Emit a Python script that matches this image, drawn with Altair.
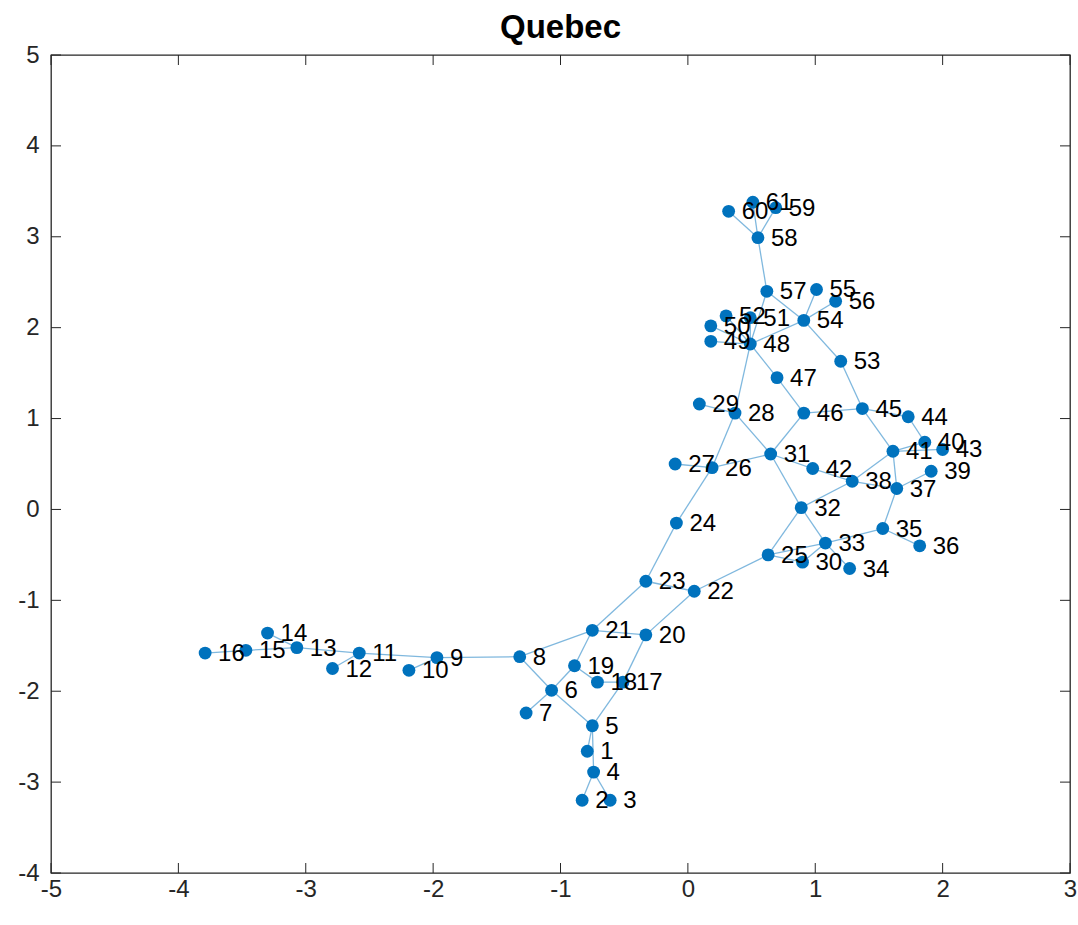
import altair as alt
import pandas as pd

# Node coordinates of the graph layout
node_x = [-0.79, -0.83, -0.61, -0.74, -0.75, -1.07, -1.27, -1.32, -1.97, -2.19,
          -2.58, -2.79, -3.07, -3.30, -3.47, -3.79, -0.51, -0.71, -0.89, -0.33,
          -0.75, 0.05, -0.33, -0.09, 0.63, 0.19, -0.10, 0.37, 0.09, 0.90,
          0.65, 0.89, 1.08, 1.27, 1.53, 1.82, 1.64, 1.29, 1.91, 1.86,
          1.61, 0.98, 2.00, 1.73, 1.37, 0.91, 0.70, 0.49, 0.18, 0.18,
          0.49, 0.30, 1.20, 0.91, 1.01, 1.16, 0.62, 0.55, 0.69, 0.32, 0.51]
node_y = [-2.66, -3.20, -3.20, -2.89, -2.38, -1.99, -2.24, -1.62, -1.63, -1.77,
          -1.58, -1.75, -1.52, -1.36, -1.55, -1.58, -1.90, -1.90, -1.72, -1.38,
          -1.33, -0.90, -0.79, -0.15, -0.50, 0.46, 0.50, 1.06, 1.16, -0.58,
          0.61, 0.02, -0.37, -0.65, -0.21, -0.40, 0.23, 0.31, 0.42, 0.74,
          0.64, 0.45, 0.66, 1.02, 1.11, 1.06, 1.45, 1.82, 1.85, 2.02,
          2.11, 2.13, 1.63, 2.08, 2.42, 2.29, 2.40, 2.99, 3.32, 3.28, 3.38]

# Edge list (1-based node ids)
edge_src = [1, 2, 3, 4, 5, 5, 6, 6, 6, 8, 8, 9, 9, 11, 11, 13, 13, 15,
            17, 17, 18, 19, 20, 20, 21, 22, 22, 23, 24, 26, 26, 26, 28, 28, 28,
            25, 25, 25, 30, 31, 31, 31, 32, 32, 33, 33, 35, 35, 37, 37, 37,
            38, 38, 40, 41, 40, 44, 41, 45, 45, 46, 47, 48, 48, 48, 48, 48, 48,
            53, 54, 54, 54, 57, 58, 58, 58]
edge_dst = [5, 4, 4, 5, 6, 17, 7, 8, 19, 9, 21, 10, 11, 12, 13, 14, 15, 16,
            18, 20, 19, 21, 21, 22, 23, 23, 25, 24, 26, 27, 28, 31, 29, 31, 48,
            30, 32, 33, 33, 32, 42, 46, 33, 38, 34, 35, 36, 37, 38, 39, 41,
            42, 41, 41, 43, 44, 45, 45, 46, 53, 47, 48, 49, 50, 51, 52, 54, 57,
            54, 55, 56, 57, 58, 59, 60, 61]

x_ticks = [-5, -4, -3, -2, -1, 0, 1, 2, 3]
y_ticks = [-4, -3, -2, -1, 0, 1, 2, 3, 4, 5]

W, H = 1019, 818
BLUE = "#0072BD"
INK = "#262626"
FONT = "Liberation Sans"

nodes = pd.DataFrame({
    "id": list(range(1, len(node_x) + 1)),
    "x": node_x,
    "y": node_y,
})
nodes["label"] = nodes["id"].astype(str)

edge_rows = []
for k, (a, b) in enumerate(zip(edge_src, edge_dst)):
    edge_rows.append({"edge": k, "order": 0, "x": node_x[a - 1], "y": node_y[a - 1]})
    edge_rows.append({"edge": k, "order": 1, "x": node_x[b - 1], "y": node_y[b - 1]})
edges = pd.DataFrame(edge_rows)

xs = alt.Scale(domain=[-5, 3], nice=False, zero=False)
ys = alt.Scale(domain=[-4, 5], nice=False, zero=False)

x_axis = alt.Axis(values=x_ticks, labelExpr="'' + datum.value", tickSize=0,
                  labelPadding=4, grid=False, title=None, domain=False,
                  labelFont=FONT, labelFontSize=24, labelColor=INK,
                  labelFlush=False, labelOverlap=False)
y_axis = alt.Axis(values=y_ticks, labelExpr="'' + datum.value", tickSize=0,
                  labelPadding=12, grid=False, title=None, domain=False,
                  labelFont=FONT, labelFontSize=24, labelColor=INK,
                  labelFlush=False, labelOverlap=False)

edge_layer = alt.Chart(edges).mark_line(
    color=BLUE, strokeWidth=1.3, opacity=0.5
).encode(
    x=alt.X("x:Q", scale=xs, axis=x_axis),
    y=alt.Y("y:Q", scale=ys, axis=y_axis),
    detail="edge:N",
    order="order:Q",
)

node_layer = alt.Chart(nodes).mark_circle(
    color=BLUE, size=165, opacity=1
).encode(
    x=alt.X("x:Q", scale=xs, axis=x_axis),
    y=alt.Y("y:Q", scale=ys, axis=y_axis),
)

label_layer = alt.Chart(nodes).mark_text(
    align="left", baseline="middle", dx=13, dy=1, fontSize=24, font=FONT, color="black"
).encode(
    x=alt.X("x:Q", scale=xs, axis=x_axis),
    y=alt.Y("y:Q", scale=ys, axis=y_axis),
    text="label:N",
)

# Inward tick marks on all four sides of the box
xt = pd.DataFrame({"v": x_ticks})
yt = pd.DataFrame({"v": y_ticks})
tick_len = 10
bottom_ticks = alt.Chart(xt).mark_rule(color=INK, strokeWidth=1).encode(
    x=alt.X("v:Q", scale=xs, axis=x_axis), y=alt.value(H), y2=alt.value(H - tick_len))
top_ticks = alt.Chart(xt).mark_rule(color=INK, strokeWidth=1).encode(
    x=alt.X("v:Q", scale=xs, axis=x_axis), y=alt.value(0), y2=alt.value(tick_len))
left_ticks = alt.Chart(yt).mark_rule(color=INK, strokeWidth=1).encode(
    y=alt.Y("v:Q", scale=ys, axis=y_axis), x=alt.value(0), x2=alt.value(tick_len))
right_ticks = alt.Chart(yt).mark_rule(color=INK, strokeWidth=1).encode(
    y=alt.Y("v:Q", scale=ys, axis=y_axis), x=alt.value(W), x2=alt.value(W - tick_len))

chart = alt.layer(
    edge_layer, node_layer, label_layer,
    bottom_ticks, top_ticks, left_ticks, right_ticks,
).properties(
    width=W,
    height=H,
    background="white",
    title=alt.TitleParams("Quebec", fontSize=33, font=FONT, fontWeight="bold",
                          color="black", offset=10, dy=12, anchor="middle"),
    autosize=alt.AutoSizeParams(type="none"),
    padding={"left": 51, "top": 55, "right": 8, "bottom": 52},
).configure_view(
    stroke=INK, strokeWidth=1.3
)

chart.save("out.html", embed_options={"renderer": "svg", "actions": False})
